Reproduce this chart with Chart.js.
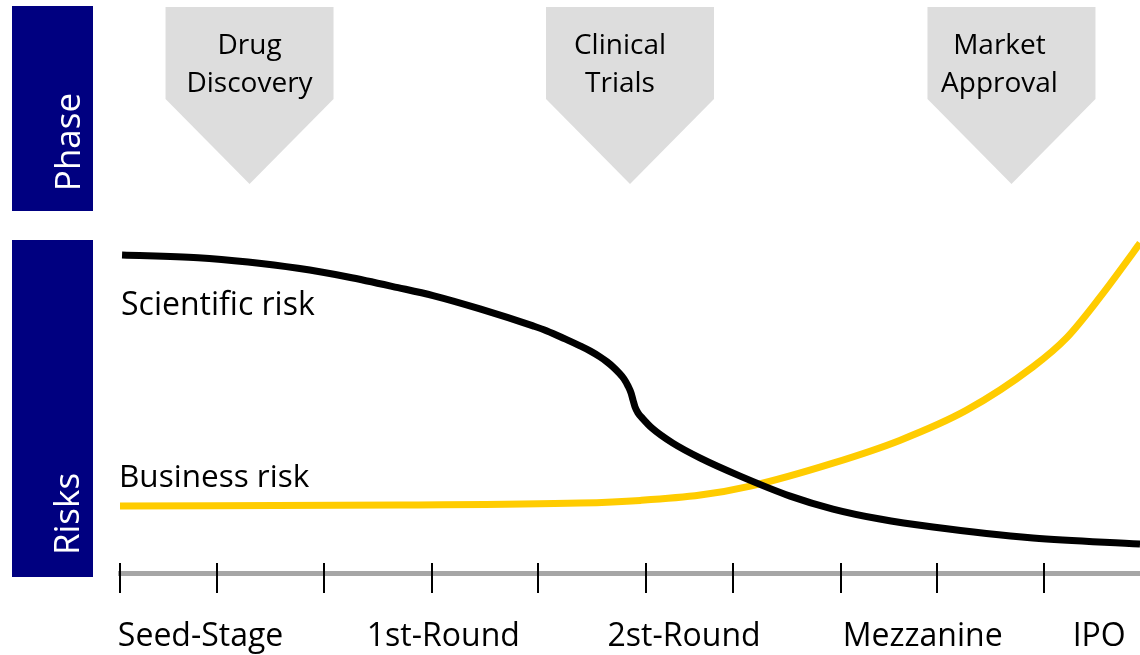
<!DOCTYPE html>
<html>
<head>
<meta charset="utf-8">
<title>Drug development: phases and risks</title>
<script src="https://cdn.jsdelivr.net/npm/chart.js@4/dist/chart.umd.min.js"></script>
<style>
  html, body { margin: 0; padding: 0; background: #ffffff; }
  canvas { display: block; }
</style>
</head>
<body>
<canvas id="riskChart" width="1140" height="655"></canvas>
<script>
// Funding stages along the timeline (0 = start, 100 = IPO)
const stages = ['Seed-Stage', '1st-Round', '2st-Round', 'Mezzanine', 'IPO'];
const stageAt = [7.9, 31.7, 55.3, 78.7, 96.0];
const milestones = [0, 9.5, 20.0, 30.6, 41.0, 51.6, 60.1, 70.7, 80.1, 90.6];

// Development phases shown above the risk curves
const phases = [['Drug', 'Discovery'], ['Clinical', 'Trials'], ['Market', 'Approval']];
const phaseAt = [12.7, 50.0, 87.4];

// Scientific risk (relative level, 0-100)
const sciX = [0.2, 7.65, 12.55, 17.45, 22.35, 27.25, 30.69, 35.29, 40.49, 41.86, 43.63, 45.10, 46.08, 47.06, 47.75, 48.33, 48.92, 49.41, 49.80, 50.10, 50.29, 50.49, 50.78, 51.27, 52.16, 54.2, 56.9, 60.8, 65.7, 69.9, 74.5, 79.7, 89.5, 100];
const sciY = [95.5, 94.7, 93.4, 91.5, 88.9, 85.7, 83.3, 79.3, 74.2, 72.7, 70.3, 68.2, 66.7, 64.9, 63.4, 61.9, 60.1, 58.3, 56.2, 54.1, 52.0, 49.9, 48.1, 46.3, 43.5, 39.0, 34.5, 29.1, 23.1, 19.2, 16.2, 13.8, 10.5, 8.7];

// Business risk (relative level, 0-100)
const bizX = [0, 27.5, 45.1, 51.0, 56.9, 61.8, 69.9, 76.5, 83.0, 89.5, 92.8, 96.1, 99.3, 100];
const bizY = [20.1, 20.4, 21.0, 21.8, 23.4, 26.1, 33.0, 39.9, 48.9, 61.9, 70.6, 82.9, 96.1, 99.1];

const seriesNames = ['Scientific risk', 'Business risk'];
const sideLabels = ['Phase', 'Risks'];

const FONT = '"Open Sans", "DejaVu Sans", sans-serif';
const NAVY = '#000080';
const GOLD = '#ffcc00';

const toPoints = (xs, ys) => xs.map((x, i) => ({ x: x, y: ys[i] }));

// Navy side panels, phase arrows and their captions
const backdrop = {
  id: 'backdrop',
  beforeDraw(chart) {
    const ctx = chart.ctx;
    const xs = chart.scales.x;
    ctx.save();

    // side panels
    ctx.fillStyle = NAVY;
    ctx.fillRect(12, 6, 81, 205);
    ctx.fillRect(12, 240, 81, 337);

    ctx.fillStyle = '#ffffff';
    ctx.font = '35px ' + FONT;
    ctx.textAlign = 'center';
    ctx.textBaseline = 'alphabetic';
    [[80, 142], [79, 514]].forEach((p, i) => {
      ctx.save();
      ctx.translate(p[0], p[1]);
      ctx.rotate(-Math.PI / 2);
      ctx.fillText(sideLabels[i], 0, 0);
      ctx.restore();
    });

    // phase arrows
    const textShift = [0, -10, -12];
    phases.forEach((lines, i) => {
      const cx = xs.getPixelForValue(phaseAt[i]);
      const half = 84;
      ctx.fillStyle = '#dddddd';
      ctx.beginPath();
      ctx.moveTo(cx - half, 7);
      ctx.lineTo(cx + half, 7);
      ctx.lineTo(cx + half, 99);
      ctx.lineTo(cx, 184);
      ctx.lineTo(cx - half, 99);
      ctx.closePath();
      ctx.fill();

      ctx.fillStyle = '#000000';
      ctx.font = '28px ' + FONT;
      ctx.textAlign = 'center';
      ctx.fillText(lines[0], cx + textShift[i], 54);
      ctx.fillText(lines[1], cx + textShift[i], 92);
    });
    ctx.restore();
  }
};

// Milestone tick marks across the timeline axis and the curve captions
const overlay = {
  id: 'overlay',
  afterDraw(chart) {
    const ctx = chart.ctx;
    const xs = chart.scales.x;
    const area = chart.chartArea;
    ctx.save();
    ctx.strokeStyle = '#000000';
    ctx.lineWidth = 2;
    milestones.forEach(v => {
      const px = Math.max(Math.round(xs.getPixelForValue(v)), area.left);
      ctx.beginPath();
      ctx.moveTo(px, xs.top - 10);
      ctx.lineTo(px, xs.top + 20);
      ctx.stroke();
    });

    ctx.fillStyle = '#000000';
    ctx.textAlign = 'left';
    ctx.textBaseline = 'alphabetic';
    ctx.font = '32px ' + FONT;
    ctx.fillText(seriesNames[0], area.left + 1, 315);
    ctx.font = '31.5px ' + FONT;
    ctx.fillText(seriesNames[1], area.left - 1, 487);
    ctx.restore();
  }
};

new Chart(document.getElementById('riskChart'), {
  type: 'line',
  data: {
    datasets: [
      {
        label: seriesNames[0],
        data: toPoints(sciX, sciY),
        borderColor: '#000000',
        borderWidth: 7,
        borderCapStyle: 'butt',
        cubicInterpolationMode: 'monotone',
        pointRadius: 0,
        clip: false
      },
      {
        label: seriesNames[1],
        data: toPoints(bizX, bizY),
        borderColor: GOLD,
        borderWidth: 7,
        borderCapStyle: 'butt',
        cubicInterpolationMode: 'monotone',
        pointRadius: 0,
        clip: false
      }
    ]
  },
  options: {
    responsive: false,
    devicePixelRatio: 1,
    animation: false,
    layout: { padding: { left: 120, top: 240, right: 0, bottom: 0 } },
    plugins: {
      legend: { display: false },
      tooltip: { enabled: false }
    },
    scales: {
      x: {
        type: 'linear',
        min: 0,
        max: 100,
        afterFit(scale) {
          scale.height = 82;
          scale.paddingLeft = 0;
          scale.paddingRight = 0;
        },
        afterBuildTicks(scale) { scale.ticks = stageAt.map(v => ({ value: v })); },
        border: { display: true, color: '#a6a6a6', width: 5 },
        grid: { display: true, drawOnChartArea: false, drawTicks: false, color: 'rgba(0,0,0,0)' },
        ticks: {
          autoSkip: false,
          maxRotation: 0,
          padding: 45,
          color: '#000000',
          font: { family: FONT, size: 32 },
          callback: (value, index) => stages[index]
        }
      },
      y: {
        display: false,
        min: 0,
        max: 100
      }
    }
  },
  plugins: [backdrop, overlay]
});
</script>
</body>
</html>
